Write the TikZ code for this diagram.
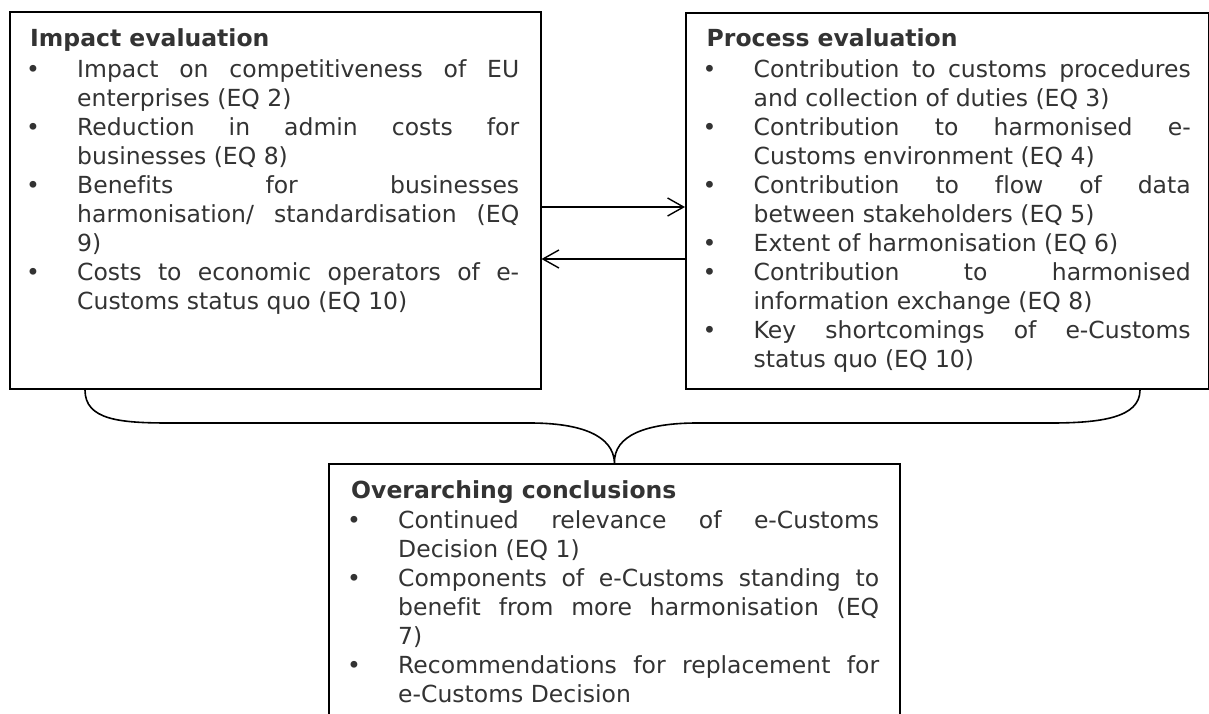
\documentclass[tikz,border=0pt]{standalone}
\usepackage{fontspec}
\setmainfont{DejaVu Sans}[Ligatures=NoCommon]
\usetikzlibrary{arrows.meta,calc}
\definecolor{txt}{RGB}{51,51,51}
\newcommand{\bul}[1]{\par\noindent\hangindent=47pt\hangafter=1\makebox[47pt][l]{\hspace*{-4pt}•}#1\par}
\newcommand{\boxsetup}{\fontsize{23.5}{29}\selectfont\tolerance=10000\relax\hbadness=10000\relax\exhyphenpenalty=10000\relax\hyphenpenalty=10000\relax}
\tikzset{
  box/.style={draw=black, line width=2pt, inner sep=0pt, anchor=north west},
  boxtext/.style={inner sep=0pt, anchor=north west, align=justify, text=txt, font=\boxsetup},
  arr/.style={line width=1.4pt, -{Straight Barb[length=16pt,width=18pt,line width=1.4pt]}},
  brace/.style={line width=1.6pt}
}
\begin{document}
\begin{tikzpicture}[x=1pt,y=-1pt]
\clip (0,0) rectangle (1209,713);
\fill[white] (0,0) rectangle (1209,713);
% boxes
\node[box, minimum width=531pt, minimum height=377pt] (L) at (8.5,11) {};
\node[box, minimum width=522.5pt, minimum height=376pt] (R) at (685,12) {};
\node[box, minimum width=571pt, minimum height=300pt] (B) at (328,463) {};
% texts
\node[boxtext, text width=489pt] (Lt) at (30,26) {\rule{0pt}{20pt}\textbf{Impact evaluation}\par\vspace{2pt}
\bul{Impact on competitiveness of EU\linebreak enterprises (EQ 2)}
\bul{Reduction in admin costs for\linebreak businesses (EQ 8)}
\bul{Benefits for businesses\linebreak harmonisation/ standardisation (EQ\linebreak 9)}
\bul{Costs to economic operators of e-\linebreak Customs status quo (EQ 10)}};
\node[boxtext, text width=484pt] (Rt) at (706.5,26) {\rule{0pt}{20pt}\textbf{Process evaluation}\par\vspace{2pt}
\bul{Contribution to customs procedures\linebreak and collection of duties (EQ 3)}
\bul{Contribution to harmonised e-\linebreak Customs environment (EQ 4)}
\bul{Contribution to flow of data\linebreak between stakeholders (EQ 5)}
\bul{Extent of harmonisation (EQ 6)}
\bul{Contribution to harmonised\linebreak information exchange (EQ 8)}
\bul{Key shortcomings of e-Customs\linebreak status quo (EQ 10)}};
\node[boxtext, text width=528pt] (Bt) at (351,478) {\rule{0pt}{20pt}\textbf{Overarching conclusions}\par\vspace{1pt}
\bul{Continued relevance of e-Customs\linebreak Decision (EQ 1)}
\bul{Components of e-Customs standing to\linebreak benefit from more harmonisation (EQ\linebreak 7)}
\bul{Recommendations for replacement for\linebreak e-Customs Decision}};
% arrows
\coordinate (a1) at (0,207);
\coordinate (a2) at (0,259);
\draw[arr] (L.east |- a1) -- (R.west |- a1);
\draw[arr] (R.west |- a2) -- (L.east |- a2);
% brace
\draw[brace] ($(L.south west)+(76.5,0)$) .. controls +(0,30) and +(-50,0) .. (170,423) -- (530,423)
  .. controls (580,423) and (613.5,435) .. (B.north)
  .. controls (613.5,435) and (647,423) .. (697,423) -- (1050,423)
  .. controls (1100,423) and ($(R.south west)+(455,28)$) .. ($(R.south west)+(455,0)$);
\end{tikzpicture}
\end{document}
